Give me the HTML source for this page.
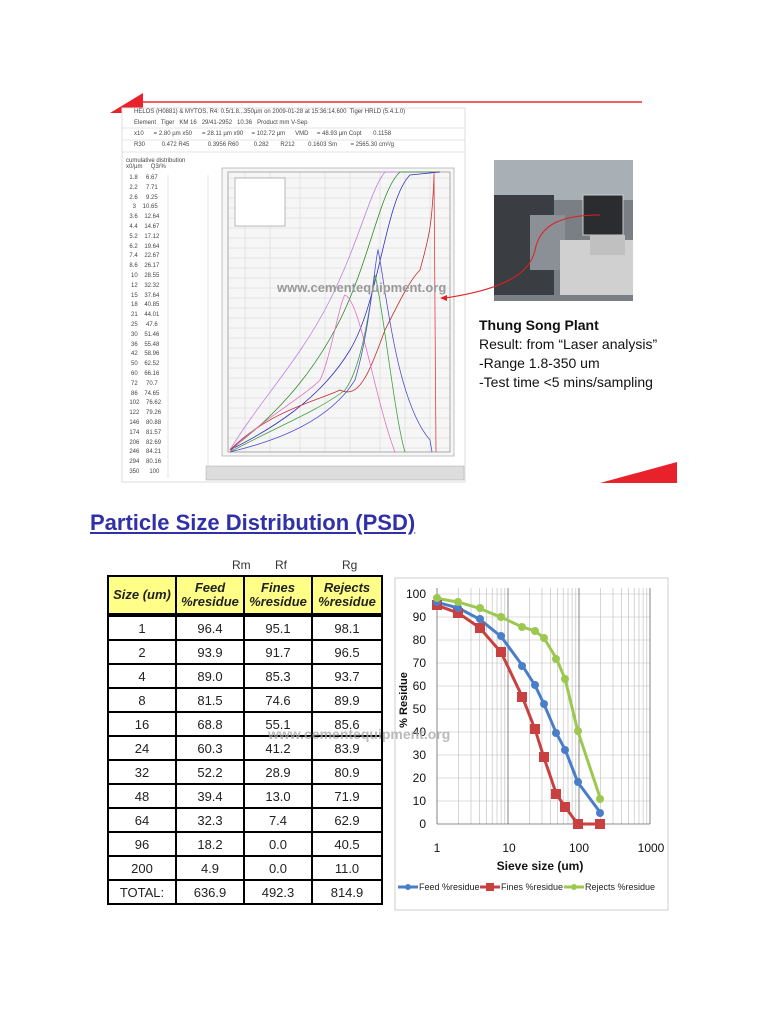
<!DOCTYPE html>
<html><head><meta charset="utf-8"><style>
body{margin:0;width:768px;height:1024px;background:#fff;position:relative;overflow:hidden;font-family:"Liberation Sans",sans-serif}
.a{position:absolute}
table.t{position:absolute;left:107px;top:575px;border-collapse:collapse;font-family:"Liberation Sans Narrow","Liberation Sans",sans-serif;table-layout:fixed;width:274px}
table.t td{border:2px solid #000;height:22px;text-align:center;font-size:13px;color:#222;padding:0}
table.t tr.h td{background:#ffff88;height:36px;font-style:italic;font-weight:bold;font-size:13px;line-height:14px;border-bottom:4px solid #000}
.st{font-size:6px;color:#444;white-space:pre}
</style></head><body>
<svg class="a" style="left:0;top:0" width="768" height="500">
<polygon points="110,113 143,93 143,113" fill="#e8212a"/>
<line x1="143" y1="102" x2="642" y2="102" stroke="#f06060" stroke-width="2"/>
<polygon points="600,483 677,462 677,483" fill="#e8212a"/>
<rect x="122" y="108" width="343" height="374" fill="#fff" stroke="#ddd"/>
<g stroke="#ccc" stroke-width="0.5">
<line x1="122" y1="128" x2="465" y2="128"/><line x1="122" y1="140" x2="465" y2="140"/><line x1="122" y1="152" x2="465" y2="152"/>
<line x1="208" y1="175" x2="208" y2="478"/><line x1="168" y1="175" x2="168" y2="478"/>
</g>
<rect x="222" y="168" width="232" height="288" fill="#f6f6f6" stroke="#999" stroke-width="0.6"/>
<g stroke="#ccc" stroke-width="0.4">
<line x1="228" y1="178" x2="450" y2="178"/><line x1="228" y1="188" x2="450" y2="188"/><line x1="228" y1="198" x2="450" y2="198"/><line x1="228" y1="208" x2="450" y2="208"/><line x1="228" y1="218" x2="450" y2="218"/><line x1="228" y1="228" x2="450" y2="228"/><line x1="228" y1="238" x2="450" y2="238"/><line x1="228" y1="248" x2="450" y2="248"/><line x1="228" y1="258" x2="450" y2="258"/><line x1="228" y1="268" x2="450" y2="268"/><line x1="228" y1="278" x2="450" y2="278"/><line x1="228" y1="288" x2="450" y2="288"/><line x1="228" y1="298" x2="450" y2="298"/><line x1="228" y1="308" x2="450" y2="308"/><line x1="228" y1="318" x2="450" y2="318"/><line x1="228" y1="328" x2="450" y2="328"/><line x1="228" y1="338" x2="450" y2="338"/><line x1="228" y1="348" x2="450" y2="348"/><line x1="228" y1="358" x2="450" y2="358"/><line x1="228" y1="368" x2="450" y2="368"/><line x1="228" y1="378" x2="450" y2="378"/><line x1="228" y1="388" x2="450" y2="388"/><line x1="228" y1="398" x2="450" y2="398"/><line x1="228" y1="408" x2="450" y2="408"/><line x1="228" y1="418" x2="450" y2="418"/><line x1="228" y1="428" x2="450" y2="428"/><line x1="228" y1="438" x2="450" y2="438"/><line x1="228" y1="448" x2="450" y2="448"/>
<line x1="245" y1="172" x2="245" y2="452"/><line x1="270" y1="172" x2="270" y2="452"/><line x1="300" y1="172" x2="300" y2="452"/><line x1="325" y1="172" x2="325" y2="452"/><line x1="350" y1="172" x2="350" y2="452"/><line x1="380" y1="172" x2="380" y2="452"/><line x1="405" y1="172" x2="405" y2="452"/><line x1="430" y1="172" x2="430" y2="452"/>
</g>
<rect x="228" y="172" width="222" height="280" fill="none" stroke="#777" stroke-width="0.6"/>
<rect x="235" y="178" width="50" height="48" fill="#fff" stroke="#777" stroke-width="0.5"/>
<g fill="none" stroke-width="0.8">
<path d="M230,450 C260,400 300,360 330,300 S370,190 385,172 L440,172" stroke="#c080e0"/>
<path d="M230,450 C270,420 310,380 340,320 S380,190 400,172 L440,172" stroke="#2a8a2a"/>
<path d="M230,450 C270,430 320,400 350,350 S385,200 410,175 L440,172" stroke="#3030c0"/>
<path d="M230,450 C270,410 320,400 340,390 C360,400 370,370 385,330 C400,300 410,280 420,270 C428,240 432,230 434,175" stroke="#c03030"/>
<path d="M230,452 C260,420 300,400 320,380 C330,360 340,300 345,295 C360,300 375,400 395,452" stroke="#e070c0"/>
<path d="M230,452 C270,430 320,410 345,390 C360,370 368,320 375,275 C382,300 395,420 405,452" stroke="#40a040"/>
<path d="M230,452 C280,440 330,420 355,380 C370,330 375,260 378,250 C385,280 395,400 430,440 L432,452" stroke="#5050d0"/>
<path d="M434,172 L436,452" stroke="#e04040"/>
</g>
<rect x="206" y="466" width="258" height="14" fill="#ddd" stroke="#aaa" stroke-width="0.5"/>
<rect x="494" y="160" width="139" height="141" fill="#7a7f86"/>
<rect x="494" y="160" width="139" height="40" fill="#a8b0b6"/>
<rect x="494" y="195" width="60" height="100" fill="#3a3d42"/>
<rect x="530" y="215" width="35" height="55" fill="#8a9096"/>
<rect x="583" y="195" width="40" height="40" fill="#2a2c30" stroke="#ccc"/>
<rect x="560" y="240" width="73" height="55" fill="#d0d0d0"/>
<rect x="590" y="235" width="35" height="20" fill="#c0c0c0"/>
<path d="M600,215 C560,215 540,225 535,250 C530,275 500,290 445,298" fill="none" stroke="#e02020" stroke-width="1"/>
<polygon points="440,298 447,295 447,301" fill="#e02020"/>
</svg>
<div class="a st" style="left:134px;top:109px">HELOS (H0881) &amp; MYTOS, R4: 0.5/1.8...350µm on 2009-01-28 at 15:36:14.600  Tiger HRLD (5.4.1.0)</div>
<div class="a st" style="left:134px;top:120px">Element   Tiger   KM 16   29/41-2952   10.36   Product mm V-Sep</div>
<div class="a st" style="left:134px;top:131px">x10      = 2.80 µm x50      = 28.11 µm x90     = 102.72 µm      VMD     = 48.93 µm Copt       0.1158</div>
<div class="a st" style="left:134px;top:142px">R30          0.472 R45           0.3956 R60         0.282       R212        0.1603 Sm        = 2565.30 cm²/g</div>
<div class="a st" style="left:126px;top:158px">cumulative distribution
x0/µm     Q3/%</div>
<div class="a st" style="left:126px;top:174px;line-height:9.8px">  1.8     6.67
  2.2     7.71
  2.6     9.25
    3    10.65
  3.6    12.64
  4.4    14.67
  5.2    17.12
  6.2    19.64
  7.4    22.67
  8.6    26.17
   10    28.55
   12    32.32
   15    37.64
   18    40.85
   21    44.01
   25     47.6
   30    51.46
   36    55.48
   42    58.96
   50    62.52
   60    66.16
   72     70.7
   86    74.65
  102    76.62
  122    79.26
  146    80.88
  174    81.57
  206    82.69
  246    84.21
  294    80.16
  350      100</div>
<div class="a" style="left:277px;top:280px;font-size:13px;font-weight:bold;color:#999">www.cementequipment.org</div>
<div class="a" style="left:479px;top:316px;font-size:14px;line-height:19px;color:#111"><b>Thung Song Plant</b><br>Result: from “Laser analysis”<br>-Range 1.8-350 um<br>-Test time &lt;5 mins/sampling</div>
<div class="a" style="left:90px;top:510px;font-size:22px;font-weight:bold;color:#3030a8;text-decoration:underline">Particle Size Distribution (PSD)</div>
<div class="a" style="left:232px;top:558px;font-size:12px;color:#333">Rm</div>
<div class="a" style="left:275px;top:558px;font-size:12px;color:#333">Rf</div>
<div class="a" style="left:342px;top:558px;font-size:12px;color:#333">Rg</div>
<table class="t">
<colgroup><col style="width:68px"><col style="width:68px"><col style="width:68px"><col style="width:70px"></colgroup>
<tr class="h"><td>Size (um)</td><td>Feed<br>%residue</td><td>Fines<br>%residue</td><td>Rejects<br>%residue</td></tr>
<tr><td>1</td><td>96.4</td><td>95.1</td><td>98.1</td></tr>
<tr><td>2</td><td>93.9</td><td>91.7</td><td>96.5</td></tr>
<tr><td>4</td><td>89.0</td><td>85.3</td><td>93.7</td></tr>
<tr><td>8</td><td>81.5</td><td>74.6</td><td>89.9</td></tr>
<tr><td>16</td><td>68.8</td><td>55.1</td><td>85.6</td></tr>
<tr><td>24</td><td>60.3</td><td>41.2</td><td>83.9</td></tr>
<tr><td>32</td><td>52.2</td><td>28.9</td><td>80.9</td></tr>
<tr><td>48</td><td>39.4</td><td>13.0</td><td>71.9</td></tr>
<tr><td>64</td><td>32.3</td><td>7.4</td><td>62.9</td></tr>
<tr><td>96</td><td>18.2</td><td>0.0</td><td>40.5</td></tr>
<tr><td>200</td><td>4.9</td><td>0.0</td><td>11.0</td></tr>
<tr><td>TOTAL:</td><td>636.9</td><td>492.3</td><td>814.9</td></tr>
</table>
<svg class="a" style="left:0;top:0" width="768" height="1024">
<rect x="395" y="578" width="273" height="332" fill="#fff" stroke="#ccc"/>
<g stroke="#bbb" stroke-width="0.6">
<line x1="437" y1="594" x2="650" y2="594"/><line x1="437" y1="617" x2="650" y2="617"/><line x1="437" y1="640" x2="650" y2="640"/><line x1="437" y1="663" x2="650" y2="663"/><line x1="437" y1="686" x2="650" y2="686"/><line x1="437" y1="709" x2="650" y2="709"/><line x1="437" y1="732" x2="650" y2="732"/><line x1="437" y1="755" x2="650" y2="755"/><line x1="437" y1="778" x2="650" y2="778"/><line x1="437" y1="801" x2="650" y2="801"/>
<line x1="458.4" y1="588" x2="458.4" y2="824"/><line x1="471" y1="588" x2="471" y2="824"/><line x1="479.7" y1="588" x2="479.7" y2="824"/><line x1="486.6" y1="588" x2="486.6" y2="824"/><line x1="492.2" y1="588" x2="492.2" y2="824"/><line x1="497" y1="588" x2="497" y2="824"/><line x1="501.1" y1="588" x2="501.1" y2="824"/><line x1="504.8" y1="588" x2="504.8" y2="824"/>
<line x1="529.4" y1="588" x2="529.4" y2="824"/><line x1="542" y1="588" x2="542" y2="824"/><line x1="550.7" y1="588" x2="550.7" y2="824"/><line x1="557.6" y1="588" x2="557.6" y2="824"/><line x1="563.2" y1="588" x2="563.2" y2="824"/><line x1="568" y1="588" x2="568" y2="824"/><line x1="572.1" y1="588" x2="572.1" y2="824"/><line x1="575.8" y1="588" x2="575.8" y2="824"/>
<line x1="600.4" y1="588" x2="600.4" y2="824"/><line x1="613" y1="588" x2="613" y2="824"/><line x1="621.7" y1="588" x2="621.7" y2="824"/><line x1="628.6" y1="588" x2="628.6" y2="824"/><line x1="634.2" y1="588" x2="634.2" y2="824"/><line x1="639" y1="588" x2="639" y2="824"/><line x1="643.1" y1="588" x2="643.1" y2="824"/><line x1="646.8" y1="588" x2="646.8" y2="824"/>
</g>
<g stroke="#666" stroke-width="0.8"><line x1="508" y1="588" x2="508" y2="824"/><line x1="579" y1="588" x2="579" y2="824"/><line x1="650" y1="588" x2="650" y2="824"/><line x1="437" y1="588" x2="437" y2="824"/><line x1="437" y1="824" x2="650" y2="824"/></g>
<g font-size="12" fill="#111" text-anchor="end" font-family="Liberation Sans Narrow, Liberation Sans, sans-serif">
<text x="426" y="598">100</text><text x="426" y="621">90</text><text x="426" y="644">80</text><text x="426" y="667">70</text><text x="426" y="690">60</text><text x="426" y="713">50</text><text x="426" y="736">40</text><text x="426" y="759">30</text><text x="426" y="782">20</text><text x="426" y="805">10</text><text x="426" y="828">0</text>
</g>
<g font-size="12" fill="#111" text-anchor="middle" font-family="Liberation Sans Narrow, Liberation Sans, sans-serif">
<text x="437" y="852">1</text><text x="509" y="852">10</text><text x="579" y="852">100</text><text x="651" y="852">1000</text>
<text x="540" y="870" font-weight="bold">Sieve size (um)</text>
</g>
<text transform="translate(407,700) rotate(-90)" font-size="11" font-weight="bold" text-anchor="middle" fill="#111">% Residue</text>
<polyline fill="none" stroke="#4a7ec8" stroke-width="3" points="437,602.3 458.4,608 479.7,619.3 501.1,636.5 522.5,665.8 535,685.3 543.9,703.9 556.4,733.4 565.2,749.7 577.7,782.1 600.4,812.7"/>
<polyline fill="none" stroke="#c84040" stroke-width="3" points="437,605.3 458.4,613.1 479.7,627.8 501.1,652.4 522.5,697.3 535,729.2 543.9,757.5 556.4,794.1 565.2,807 577.7,824 600.4,824"/>
<polyline fill="none" stroke="#9cc850" stroke-width="3" points="437,598.4 458.4,602.1 479.7,608.5 501.1,617.2 522.5,627.1 535,631 543.9,637.9 556.4,658.6 565.2,679.3 577.7,730.9 600.4,798.7"/>
<g fill="#c84040"><rect x="432" y="600" width="10" height="10"/><rect x="453" y="608" width="10" height="10"/><rect x="475" y="623" width="10" height="10"/><rect x="496" y="647" width="10" height="10"/><rect x="517" y="692" width="10" height="10"/><rect x="530" y="724" width="10" height="10"/><rect x="539" y="752" width="10" height="10"/><rect x="551" y="789" width="10" height="10"/><rect x="560" y="802" width="10" height="10"/><rect x="573" y="819" width="10" height="10"/><rect x="595" y="819" width="10" height="10"/></g>
<g fill="#4a7ec8"><circle cx="437" cy="602" r="4"/><circle cx="458" cy="608" r="4"/><circle cx="480" cy="619" r="4"/><circle cx="501" cy="636" r="4"/><circle cx="522" cy="666" r="4"/><circle cx="535" cy="685" r="4"/><circle cx="544" cy="704" r="4"/><circle cx="556" cy="733" r="4"/><circle cx="565" cy="750" r="4"/><circle cx="578" cy="782" r="4"/><circle cx="600" cy="813" r="4"/></g>
<g fill="#9cc850"><circle cx="437" cy="598" r="4"/><circle cx="458" cy="602" r="4"/><circle cx="480" cy="608" r="4"/><circle cx="501" cy="617" r="4"/><circle cx="522" cy="627" r="4"/><circle cx="535" cy="631" r="4"/><circle cx="544" cy="638" r="4"/><circle cx="556" cy="659" r="4"/><circle cx="565" cy="679" r="4"/><circle cx="578" cy="731" r="4"/><circle cx="600" cy="799" r="4"/></g>
<g font-size="9" fill="#222" font-family="Liberation Sans Narrow, Liberation Sans, sans-serif">
<line x1="398" y1="887" x2="418" y2="887" stroke="#4a7ec8" stroke-width="3"/><circle cx="408" cy="887" r="3" fill="#4a7ec8"/><text x="419" y="890">Feed %residue</text>
<line x1="480" y1="887" x2="500" y2="887" stroke="#c84040" stroke-width="3"/><rect x="486" y="883" width="8" height="8" fill="#c84040"/><text x="501" y="890">Fines %residue</text>
<line x1="564" y1="887" x2="584" y2="887" stroke="#9cc850" stroke-width="3"/><circle cx="574" cy="887" r="3" fill="#9cc850"/><text x="585" y="890">Rejects %residue</text>
</g>
<text x="268" y="739" font-size="14" font-weight="bold" fill="#aaa" opacity="0.8" font-family="Liberation Sans, sans-serif">www.cementequipment.org</text>
</svg>
</body></html>
